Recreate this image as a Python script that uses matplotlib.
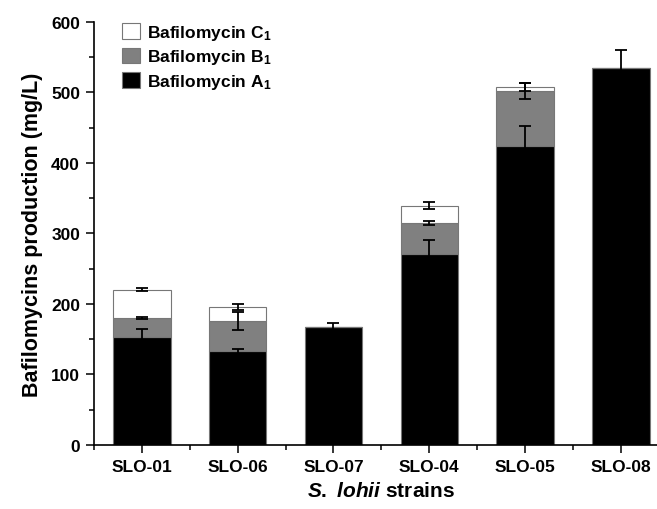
import numpy as np
import matplotlib.pyplot as plt

plt.rcParams['font.family'] = 'Liberation Sans'
plt.rcParams['font.weight'] = 'bold'
plt.rcParams['mathtext.fontset'] = 'custom'
plt.rcParams['mathtext.rm'] = 'Liberation Sans:bold'
plt.rcParams['mathtext.bf'] = 'Liberation Sans:bold'
plt.rcParams['mathtext.it'] = 'Liberation Sans:bold:italic'
plt.rcParams['mathtext.default'] = 'bf'

strains = ['SLO-01', 'SLO-06', 'SLO-07', 'SLO-04', 'SLO-05', 'SLO-08']
baf_a = [153.5, 133, 167, 271, 423.5, 535]
baf_b = [26.5, 42.5, 0, 44, 79, 0]
baf_c = [40, 20, 0, 24.5, 5.5, 0]
err_a = [10.5, 3.5, 5.5, 19.5, 29, 25]
err_b = [2, 12.5, 0, 2.5, 11.5, 0]
err_c = [2, 4, 0, 4.5, 6, 0]

x = np.arange(1, len(strains) + 1)
a = np.array(baf_a)
b = np.array(baf_b)
c = np.array(baf_c)

fig = plt.figure(figsize=(6.57, 5.1), dpi=100)
ax = fig.add_axes([0.143, 0.1255, 0.875, 0.8295])

w = 0.6
edge = '#777777'
ax.bar(x, a, w, color='black', edgecolor=edge, linewidth=0.8, label='Bafilomycin A$_1$')
ax.bar(x, b, w, bottom=a, color='#808080', edgecolor=edge, linewidth=0.8,
       label='Bafilomycin B$_1$')
ax.bar(x, c, w, bottom=a + b, color='white', edgecolor=edge, linewidth=0.8,
       label='Bafilomycin C$_1$')

# error bars at the top of each stacked segment
for tops, vals, errs in [(a, a, err_a), (a + b, b, err_b), (a + b + c, c, err_c)]:
    m = np.array(vals) > 0
    ax.errorbar(x[m], tops[m], yerr=np.array(errs)[m], fmt='none', ecolor='black',
                elinewidth=1.3, capsize=4, capthick=1.3, zorder=5)

ax.set_xlim(0.5, 6.5)
ax.set_ylim(0, 600)
ax.set_xticks(x)
ax.set_xticklabels(strains)
ax.set_xticks(np.arange(0.5, 7, 1), minor=True)
ax.set_yticks(np.arange(0, 601, 100))
ax.set_yticks(np.arange(50, 600, 100), minor=True)
ax.tick_params(axis='both', which='major', direction='out', length=6, width=1.1,
               labelsize=12.5, pad=4)
ax.tick_params(axis='both', which='minor', direction='out', length=3.5, width=1.1)

for s in ['top', 'right']:
    ax.spines[s].set_visible(False)
for s in ['left', 'bottom']:
    ax.spines[s].set_linewidth(1.2)

ax.set_ylabel('Bafilomycins production (mg/L)', fontsize=15.5, fontweight='bold', labelpad=6)
ax.set_xlabel(r'$\mathit{S.\ lohii}$ strains', fontsize=15, fontweight='bold', labelpad=5)

handles, labels = ax.get_legend_handles_labels()
ax.legend(handles[::-1], labels[::-1], loc='upper left', bbox_to_anchor=(0.022, 1.035),
          frameon=False, fontsize=12.5, handlelength=1.0, handleheight=1.0,
          handletextpad=0.45, labelspacing=0.32)

fig.savefig('out.png', dpi=100)
